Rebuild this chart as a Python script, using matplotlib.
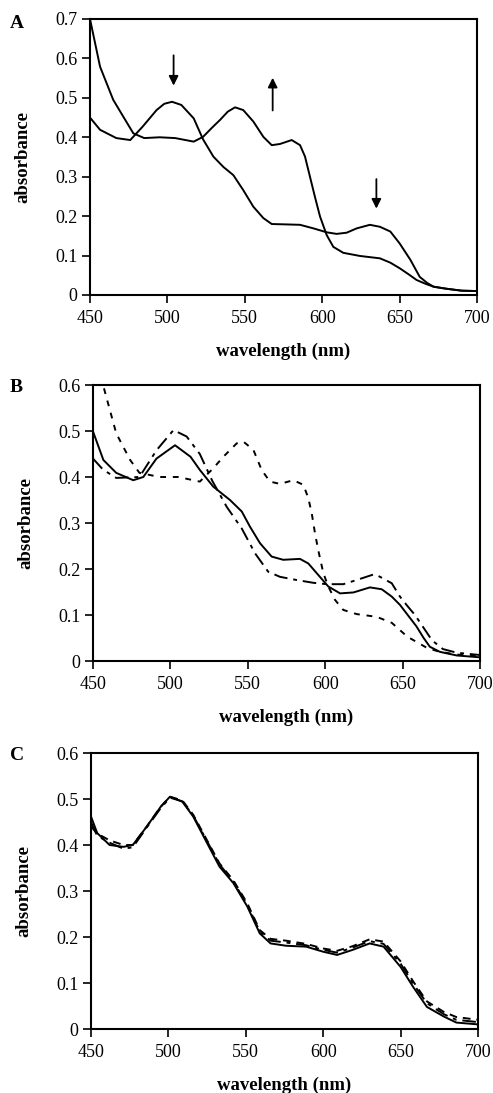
import matplotlib
matplotlib.use("Agg")
import matplotlib.pyplot as plt
import numpy as np

plt.rcParams['font.family'] = ['Liberation Serif', 'DejaVu Serif']

# ---------------- Panel A ----------------
a1_x = [450, 456.5, 465, 474, 478, 485, 495, 505, 517, 523, 529, 534, 539, 543.7, 549, 555.5, 562, 567.4, 572.7, 580.3,
        585.7, 588.9, 592.1, 595.3, 598.6, 602.9, 607.2, 613.6, 624.4, 637.3, 644, 650, 656, 661, 667, 672, 680, 690, 700]
a1_y = [0.70, 0.579, 0.495, 0.436, 0.41, 0.398, 0.400, 0.398, 0.389, 0.401, 0.425, 0.444, 0.465, 0.476, 0.469, 0.440, 0.401, 0.380, 0.383, 0.393,
        0.380, 0.351, 0.300, 0.249, 0.199, 0.152, 0.122, 0.107, 0.099, 0.093, 0.082, 0.068, 0.052, 0.038, 0.028, 0.021, 0.016, 0.011, 0.01]

a2_x = [450, 456.5, 467, 476, 484, 493, 498, 503, 509, 517, 523, 529.7, 536.1, 542.6, 549, 555.5, 562, 567.4, 577.1, 585.7,
        594.3, 602.9, 609.3, 615.8, 622.3, 630.8, 637.3, 644, 650, 657, 663, 668, 672, 680, 690, 700]
a2_y = [0.45, 0.419, 0.398, 0.393, 0.427, 0.469, 0.485, 0.490, 0.482, 0.448, 0.395, 0.351, 0.325, 0.304, 0.266, 0.224, 0.195, 0.180, 0.179, 0.178,
        0.169, 0.159, 0.155, 0.158, 0.169, 0.178, 0.173, 0.161, 0.131, 0.089, 0.046, 0.030, 0.021, 0.016, 0.011, 0.01]

# arrows: (x, y_start, y_end)
arrow_x = [504, 568, 635]
arrow_y0 = [0.615, 0.461, 0.301]
arrow_y1 = [0.524, 0.558, 0.212]

# ---------------- Panel B ----------------
b_short_x = [450, 456.5, 465, 474, 480, 493, 505, 519, 527.7, 534.2, 542.8, 547.1, 553.6, 559, 564.3, 570.8, 579.4, 585.9, 589.1, 591.3,
             593.4, 595.5, 598.8, 602, 606.3, 611.7, 620.3, 633.3, 643, 653, 666, 674, 685, 700]
b_short_y = [0.70, 0.60, 0.495, 0.437, 0.409, 0.40, 0.40, 0.39, 0.419, 0.444, 0.473, 0.477, 0.459, 0.415, 0.390, 0.385, 0.393, 0.383, 0.354, 0.321,
             0.278, 0.241, 0.191, 0.162, 0.133, 0.111, 0.102, 0.096, 0.083, 0.053, 0.028, 0.02, 0.014, 0.01]

b_solid_x = [450, 456.7, 465, 476, 482.5, 491, 503, 513, 519.1, 527.7, 538.5, 546.1, 551.4, 557.9, 565.4, 572.9, 583.7, 589.1, 594.5, 602,
             609.6, 618.2, 628.9, 636.5, 643, 648.3, 654, 659, 663.6, 667.6, 674, 685, 700]
b_solid_y = [0.499, 0.437, 0.409, 0.393, 0.40, 0.44, 0.469, 0.444, 0.415, 0.379, 0.350, 0.325, 0.292, 0.256, 0.227, 0.220, 0.222, 0.212, 0.191, 0.162,
             0.147, 0.149, 0.160, 0.156, 0.140, 0.122, 0.097, 0.075, 0.050, 0.031, 0.02, 0.012, 0.008]

b_long_x = [450, 456.5, 465, 480, 491, 502, 510.5, 519, 527, 536.4, 546.1, 554.7, 563.2, 570.8, 581.6, 592.3, 601, 611.7, 620.3, 631.1,
            634.3, 643, 648.3, 653, 658, 663, 669, 676, 685, 700]
b_long_y = [0.44, 0.416, 0.398, 0.40, 0.458, 0.502, 0.488, 0.45, 0.392, 0.335, 0.288, 0.234, 0.194, 0.183, 0.176, 0.170, 0.167, 0.167, 0.176, 0.188,
            0.185, 0.169, 0.140, 0.120, 0.100, 0.075, 0.045, 0.026, 0.018, 0.013]

# ---------------- Panel C ----------------
c_x = [450, 454, 462, 471, 477, 486, 495, 501, 509, 516, 525, 533, 542, 551, 559, 566, 576, 589, 600, 609,
       619, 630, 639, 650, 658, 667, 678, 686, 700]
c_solid_y = [0.462, 0.426, 0.400, 0.396, 0.400, 0.440, 0.483, 0.505, 0.494, 0.462, 0.404, 0.353, 0.317, 0.266, 0.208, 0.186, 0.181, 0.179, 0.168, 0.161,
             0.172, 0.186, 0.179, 0.135, 0.092, 0.048, 0.027, 0.014, 0.010]
c_dash_y = [0.44, 0.425, 0.41, 0.40, 0.40, 0.44, 0.483, 0.505, 0.497, 0.466, 0.41, 0.36, 0.323, 0.273, 0.215, 0.196, 0.192, 0.185, 0.175, 0.170,
            0.180, 0.195, 0.19, 0.147, 0.104, 0.06, 0.037, 0.026, 0.020]
c_dashdot_y = [0.45, 0.42, 0.405, 0.392, 0.395, 0.438, 0.48, 0.503, 0.495, 0.464, 0.408, 0.358, 0.32, 0.27, 0.212, 0.192, 0.188, 0.182, 0.172, 0.166,
               0.177, 0.191, 0.185, 0.142, 0.099, 0.056, 0.032, 0.02, 0.015]

x_ticks = [450, 500, 550, 600, 650, 700]

W, H = 493, 1093
fig = plt.figure(figsize=(W / 100, H / 100), dpi=100)


def make_ax(left, right, top, bottom):
    return fig.add_axes([left / W, 1 - bottom / H, (right - left) / W, (bottom - top) / H])


def style(ax, ymax, letter, lx, ly):
    ax.set_xlim(450, 700)
    ax.set_ylim(0, ymax)
    ax.set_xticks(x_ticks)
    yt = np.round(np.arange(0, ymax + 0.001, 0.1), 1)
    ax.set_yticks(yt)
    ax.set_yticklabels(['0' if v == 0 else f'{v:.1f}' for v in yt])
    ax.tick_params(direction='out', length=6, width=1.2, labelsize=13, top=False, right=False)
    ax.tick_params(axis='x', pad=5)
    ax.tick_params(axis='y', pad=3)
    for s in ax.spines.values():
        s.set_linewidth(1.5)
    ax.set_ylabel('absorbance', fontsize=13.5, fontweight='bold', labelpad=17)
    ax.set_xlabel('wavelength (nm)', fontsize=13.5, fontweight='bold', labelpad=11)
    fig.text(lx / W, 1 - ly / H, letter, fontsize=14, fontweight='bold', ha='left', va='center')


lw = 1.4
common = dict(color='black', lw=lw, solid_joinstyle='round', dash_joinstyle='round')
# A
axA = make_ax(90, 477, 19, 295)
axA.plot(a1_x, a1_y, **common)
axA.plot(a2_x, a2_y, **common)
for x, y0, y1 in zip(arrow_x, arrow_y0, arrow_y1):
    axA.annotate('', xy=(x, y1), xytext=(x, y0),
                 arrowprops=dict(arrowstyle='-|>', color='black', lw=1.3, mutation_scale=14))
style(axA, 0.7, 'A', 10, 23)

# B
axB = make_ax(93, 480, 385, 661)
axB.plot(b_short_x, b_short_y, linestyle=(0, (3, 3.5)), **common)
axB.plot(b_solid_x, b_solid_y, **common)
axB.plot(b_long_x, b_long_y, linestyle=(0, (7, 3, 2, 3)), **common)
style(axB, 0.6, 'B', 10, 387)

# C
axC = make_ax(91, 478, 753, 1029)
axC.plot(c_x, c_dash_y, linestyle=(0, (4, 3)), **common)
axC.plot(c_x, c_dashdot_y, linestyle=(0, (7, 3, 2, 3)), **common)
axC.plot(c_x, c_solid_y, **common)
style(axC, 0.6, 'C', 10, 755)

fig.savefig('out.png', dpi=100)
